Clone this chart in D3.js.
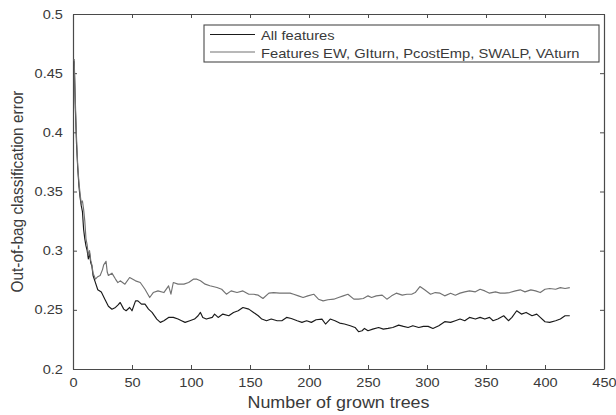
<!DOCTYPE html>
<html>
<head>
<meta charset="utf-8">
<script src="https://cdn.jsdelivr.net/npm/d3@7"></script>
<style>
    body { margin: 0; background: #fff; }
    text { font-family: "Liberation Sans", Arial, sans-serif; fill: #3a3a3a; }
    .axis path, .axis line { stroke: #4a4a4a; }
</style>
</head>
<body>
<div id="oob-chart"></div>
<script>
// Out-of-bag error, all features
var treesAll = [1,2,3,4,5,6,7,8,9,10,11,12,13,14,15,16,17,19,21,24,27,30,33,36,38,
    40,43,45,48,50,53,55,58,61,64,67,71,74,77,81,85,89,92,95,99,103,106,108,110,113,118,120,123,127,132,136,140,144,149,153,157,160,164,168,173,177,181,
    185,190,194,198,202,206,211,214,218,222,226,230,235,239,242,245,247,250,254,259,263,267,271,276,280,284,288,293,297,301,305,310,315,
    320,324,328,332,336,341,345,349,353,356,360,365,369,372,376,380,384,389,393,396,400,404,409,413,417,421];
var errorAll = [0.460,0.420,0.390,0.370,0.355,0.345,0.338,0.333,0.318,0.310,0.304,0.300,0.293,0.298,0.290,0.287,0.279,0.273,0.267,0.265,0.259,0.253,0.2505,0.252,0.254,
    0.2562,0.2506,0.2492,0.2520,0.2492,0.2576,0.2576,0.2548,0.2548,0.2506,0.2478,0.2422,0.2394,0.2408,0.2436,0.2436,0.2422,0.2408,0.2394,0.2408,0.2422,0.2450,0.2478,0.2436,0.2422,0.2436,0.2464,0.2436,0.2464,0.2450,0.2478,0.2492,0.2520,0.2506,0.2478,0.2450,0.2422,0.2408,0.2422,0.2408,0.2408,0.2436,
    0.2427,0.2408,0.2394,0.2408,0.2394,0.2416,0.2422,0.2380,0.2422,0.2408,0.2388,0.2380,0.2366,0.2351,0.2315,0.2323,0.2343,0.2323,0.2337,0.2351,0.2337,0.2343,0.2351,0.2371,0.2360,0.2351,0.2366,0.2351,0.2360,0.2360,0.2343,0.2366,0.2400,
    0.2394,0.2408,0.2422,0.2408,0.2436,0.2422,0.2436,0.2422,0.2436,0.2408,0.2422,0.2450,0.2408,0.2436,0.2492,0.2464,0.2478,0.2450,0.2464,0.2436,0.2399,0.2394,0.2408,0.2422,0.2450,0.2450];

// Out-of-bag error, selected features
var treesSubset = [1,2,3,4,5,6,7,8,9,10,11,12,13,14,15,16,17,19,21,23,25,26,28,29,30,33,36,38,
    40,44,48,53,57,61,65,68,72,77,81,83,85,89,94,98,102,105,108,112,116,122,126,130,134,139,144,149,153,157,161,166,170,175,184,
    187,191,195,199,204,208,212,216,221,225,229,233,238,242,246,250,253,257,262,266,270,274,279,283,287,290,294,298,303,307,311,315,320,
    324,328,332,336,341,345,349,353,358,362,366,370,375,379,383,388,392,396,400,404,409,413,417,421];
var errorSubset = [0.462,0.425,0.395,0.372,0.358,0.348,0.340,0.342,0.335,0.325,0.310,0.305,0.296,0.300,0.292,0.288,0.281,0.276,0.278,0.279,0.284,0.288,0.291,0.282,0.279,0.281,0.276,0.273,
    0.2745,0.2717,0.2773,0.2745,0.2731,0.2674,0.2604,0.2646,0.2660,0.2646,0.2703,0.2632,0.2731,0.2717,0.2717,0.2731,0.2759,0.2759,0.2745,0.2717,0.2703,0.2689,0.2674,0.2632,0.2660,0.2646,0.2660,0.2632,0.2632,0.2624,0.2596,0.2641,0.2646,0.2641,0.2641,
    0.2632,0.2618,0.2604,0.2618,0.2632,0.2590,0.2576,0.2585,0.2590,0.2604,0.2618,0.2632,0.2590,0.2590,0.2596,0.2618,0.2604,0.2618,0.2624,0.2590,0.2618,0.2641,0.2624,0.2632,0.2632,0.2646,0.2697,0.2669,0.2632,0.2646,0.2641,0.2618,0.2640,
    0.2624,0.2641,0.2652,0.2660,0.2652,0.2674,0.2660,0.2641,0.2652,0.2641,0.2641,0.2646,0.2660,0.2669,0.2652,0.2669,0.2660,0.2646,0.2674,0.2680,0.2674,0.2688,0.2680,0.2688];

var xTicks = [0, 50, 100, 150, 200, 250, 300, 350, 400, 450];
var yTicks = [0.2, 0.25, 0.3, 0.35, 0.4, 0.45, 0.5];
var legendLabels = ['All features', 'Features EW, GIturn, PcostEmp, SWALP, VAturn'];
var seriesColors = ['#1a1a1a', '#727272'];

// the source figure is a little stretched sideways, so text is too
var textStretch = 'scale(1.12,1)';

OOBChart = function(_parentElement) {
    this.parentElement = _parentElement;
    this.series = [
        treesAll.map(function(t, i) { return {trees: t, error: errorAll[i]}; }),
        treesSubset.map(function(t, i) { return {trees: t, error: errorSubset[i]}; })
    ];
    this.initVis();
}

OOBChart.prototype.initVis = function() {
    var vis = this;

    vis.margin = {top: 14, right: 12, bottom: 46, left: 73};
    vis.width = 616 - vis.margin.left - vis.margin.right;
    vis.height = 415 - vis.margin.top - vis.margin.bottom;

    vis.svg = d3.select('#' + vis.parentElement)
        .append('svg')
        .attr('width', 616)
        .attr('height', 415)
        .append('g')
        .attr('transform', 'translate(' + vis.margin.left + ',' + vis.margin.top + ')');

    // Scales
    vis.x = d3.scaleLinear().domain([0, 450]).range([0, vis.width]);
    vis.y = d3.scaleLinear().domain([0.2, 0.5]).range([vis.height, 0]);

    var fmt = function(d) { return String(+d.toFixed(2)); };

    // Axes, ticks pointing inward like matlab
    vis.svg.append('g')
        .attr('class', 'x-axis axis')
        .attr('transform', 'translate(0,' + vis.height + ')')
        .call(d3.axisBottom(vis.x).tickValues(xTicks).tickFormat(fmt).tickSizeInner(-4).tickSizeOuter(0).tickPadding(9));

    vis.svg.append('g')
        .attr('class', 'y-axis axis')
        .call(d3.axisLeft(vis.y).tickValues(yTicks).tickFormat(fmt).tickSizeInner(-4).tickSizeOuter(0).tickPadding(9));

    vis.svg.append('g')
        .attr('class', 'axis')
        .call(d3.axisTop(vis.x).tickValues(xTicks).tickFormat('').tickSizeInner(-4).tickSizeOuter(0));

    vis.svg.append('g')
        .attr('class', 'axis')
        .attr('transform', 'translate(' + vis.width + ',0)')
        .call(d3.axisRight(vis.y).tickValues(yTicks).tickFormat('').tickSizeInner(-4).tickSizeOuter(0));

    vis.svg.selectAll('.axis path').attr('stroke-width', 1.2);

    vis.svg.selectAll('.x-axis text, .y-axis text')
        .attr('fill', '#444')
        .style('font-size', '13px')
        .attr('transform', textStretch);

    vis.svg.selectAll('.y-axis text').attr('x', -9);

    // Axis labels
    vis.svg.append('text')
        .attr('transform', 'translate(' + (vis.width / 2) + ',' + (vis.height + 39) + ') ' + textStretch)
        .attr('text-anchor', 'middle')
        .style('font-size', '16px')
        .text('Number of grown trees');

    vis.svg.append('text')
        .attr('transform', 'translate(' + (23 - vis.margin.left) + ',' + (vis.height / 2) + ') ' + textStretch + ' rotate(-90)')
        .attr('text-anchor', 'middle')
        .style('font-size', '15.4px')
        .text('Out-of-bag classification error');

    // Lines
    vis.line = d3.line()
        .x(function(d) { return vis.x(d.trees); })
        .y(function(d) { return vis.y(d.error); });

    vis.svg.selectAll('.oob-line')
        .data(vis.series)
        .enter()
        .append('path')
        .attr('class', 'oob-line')
        .attr('fill', 'none')
        .attr('stroke', function(d, i) { return seriesColors[i]; })
        .attr('stroke-width', 1.15)
        .attr('stroke-linejoin', 'round')
        .attr('d', vis.line);

    // Legend
    var legend = vis.svg.append('g')
        .attr('transform', 'translate(' + (204 - vis.margin.left) + ',' + (25 - vis.margin.top) + ')');

    legend.append('rect')
        .attr('width', 395)
        .attr('height', 37)
        .attr('fill', '#fff')
        .attr('stroke', '#4a4a4a')
        .attr('stroke-width', 1.1);

    var rows = legend.selectAll('.legend-row')
        .data(legendLabels)
        .enter()
        .append('g')
        .attr('class', 'legend-row')
        .attr('transform', function(d, i) { return 'translate(0,' + (9.5 + i * 17.5) + ')'; });

    rows.append('line')
        .attr('x1', 6)
        .attr('x2', 51)
        .attr('stroke', function(d, i) { return seriesColors[i]; })
        .attr('stroke-width', 1.15);

    rows.append('text')
        .attr('transform', 'translate(57,5.5) scale(1.15,1)')
        .style('font-size', '12.8px')
        .attr('fill', '#2a2a2a')
        .text(function(d) { return d; });
}

var oobChart = new OOBChart('oob-chart');
</script>
</body>
</html>
